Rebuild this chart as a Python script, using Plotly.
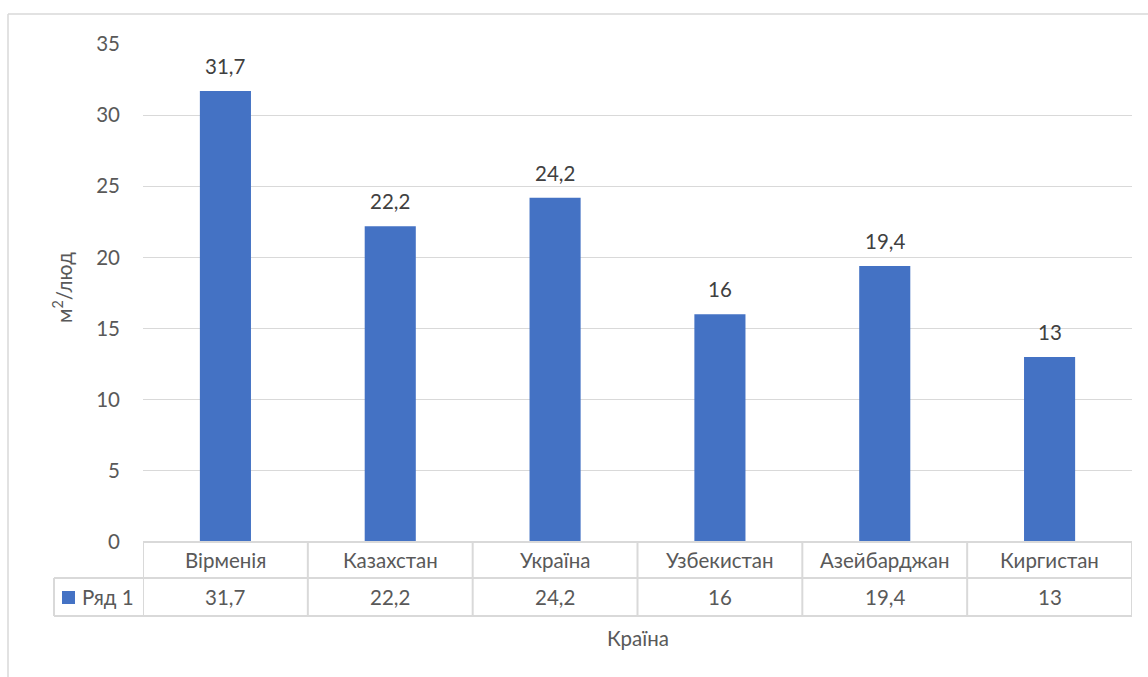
import plotly.graph_objects as go

categories = ["Вірменія", "Казахстан", "Україна", "Узбекистан", "Азейбарджан", "Киргистан"]
values = [31.7, 22.2, 24.2, 16, 19.4, 13]
series_name = "Ряд 1"
y_ticks = [0, 5, 10, 15, 20, 25, 30, 35]
x_title = "Країна"
y_title = "м<sup>2</sup>/люд"

W, H = 1148, 677
L, R, T, B = 143, 16, 44, 135
PW = W - L - R
PH = H - T - B
FONT = "Lato"
FS = 20.5
TXT = "#595959"
LINE = "#d9d9d9"
BAR = "#4472C4"


def fmt(v):
    s = ("%g" % v).replace(".", ",")
    return s


def px(xp):
    return (xp - L) / PW


def py(yp):
    return (H - B - yp) / PH


fig = go.Figure()
fig.add_trace(go.Bar(
    x=list(range(len(categories))), y=values, name=series_name,
    marker=dict(color=BAR, line=dict(width=0)), width=0.31,
    hoverinfo="skip",
))

annotations = []
shapes = []

# data labels
for i, v in enumerate(values):
    annotations.append(dict(x=i, y=v, xref="x", yref="y", text=fmt(v), showarrow=False,
                            yanchor="bottom", yshift=11,
                            font=dict(family=FONT, size=FS, color="#404040")))

# table geometry (pixel rows)
row1_top, row1_bot, row2_bot = 542, 578, 616
legend_left = 54
n = len(categories)
# horizontal lines
shapes.append(dict(type="line", xref="paper", yref="paper", x0=0, x1=1,
                   y0=py(row1_top), y1=py(row1_top), line=dict(color=LINE, width=2)))
for yy in (row1_bot, row2_bot):
    shapes.append(dict(type="line", xref="paper", yref="paper", x0=px(legend_left), x1=1,
                       y0=py(yy), y1=py(yy), line=dict(color=LINE, width=2)))
# vertical lines
for k in range(n + 1):
    shapes.append(dict(type="line", xref="x", yref="paper", x0=k - 0.5, x1=k - 0.5,
                       y0=py(row1_top), y1=py(row2_bot), line=dict(color=LINE, width=2)))
shapes.append(dict(type="line", xref="paper", yref="paper", x0=px(legend_left), x1=px(legend_left),
                   y0=py(row1_bot), y1=py(row2_bot), line=dict(color=LINE, width=2)))
# cell texts
for i, (c, v) in enumerate(zip(categories, values)):
    annotations.append(dict(x=i, y=py((row1_top + row1_bot) / 2), xref="x", yref="paper", text=c,
                            showarrow=False, yanchor="middle",
                            font=dict(family=FONT, size=FS, color=TXT)))
    annotations.append(dict(x=i, y=py((row1_bot + row2_bot) / 2), xref="x", yref="paper", text=fmt(v),
                            showarrow=False, yanchor="middle",
                            font=dict(family=FONT, size=FS, color=TXT)))
# legend key
shapes.append(dict(type="rect", xref="paper", yref="paper", x0=px(62), x1=px(75),
                   y0=py(604), y1=py(591), fillcolor=BAR, line=dict(width=0)))
annotations.append(dict(x=px(80), y=py(597), xref="paper", yref="paper", text=series_name,
                        showarrow=False, xanchor="left", yanchor="middle",
                        font=dict(family=FONT, size=FS, color=TXT)))
# axis titles
annotations.append(dict(x=0.5, y=py(638), xref="paper", yref="paper", text=x_title,
                        showarrow=False, yanchor="middle",
                        font=dict(family=FONT, size=FS, color=TXT)))
annotations.append(dict(x=px(62), y=py(288), xref="paper", yref="paper", text=y_title,
                        showarrow=False, textangle=-90, xanchor="center", yanchor="middle",
                        font=dict(family=FONT, size=FS, color=TXT)))
# chart border (left and top)
shapes.append(dict(type="line", xref="paper", yref="paper", x0=px(8), x1=px(8),
                   y0=py(700), y1=py(14), line=dict(color=LINE, width=1.5)))
shapes.append(dict(type="line", xref="paper", yref="paper", x0=px(8), x1=px(1170),
                   y0=py(14), y1=py(14), line=dict(color=LINE, width=1.5)))

fig.update_layout(
    width=W, height=H,
    margin=dict(l=L, r=R, t=T, b=B),
    paper_bgcolor="white", plot_bgcolor="white",
    showlegend=False,
    annotations=annotations, shapes=shapes,
    xaxis=dict(range=[-0.5, n - 0.5], showticklabels=False, showgrid=False, zeroline=False,
               showline=False, ticks=""),
    yaxis=dict(range=[0, 35], tickvals=y_ticks, showgrid=True, gridcolor=LINE, gridwidth=1,
               zeroline=False, showline=False, ticks="", ticklabelstandoff=22,
               tickfont=dict(family=FONT, size=FS, color=TXT)),
    font=dict(family=FONT),
)

fig.write_html("out.html")
